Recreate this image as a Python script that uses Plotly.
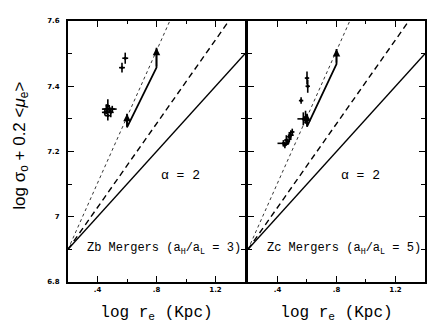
import plotly.graph_objects as go

# reference lines (same in both panels): log r_e, log sigma + 0.2 <mu_e>
solid_x = [0.2, 1.4]
solid_y = [6.9, 7.5]
dash_x = [0.2, 1.29]
dash_y = [6.9, 7.6]
dot_x = [0.2, 0.89]
dot_y = [6.9, 7.6]

# merger track (arrowed)
zb_track_x = [0.6, 0.6, 0.8, 0.8]
zb_track_y = [7.316, 7.274, 7.457, 7.518]
zc_track_x = [0.6, 0.6, 0.8, 0.8]
zc_track_y = [7.316, 7.276, 7.468, 7.514]

# Zb mergers
zb_x = [0.45, 0.46, 0.47, 0.47, 0.48, 0.49, 0.50, 0.566, 0.588]
zb_y = [7.32, 7.33, 7.34, 7.31, 7.33, 7.32, 7.33, 7.457, 7.486]
zb_ex = [0.02, 0.02, 0.015, 0.02, 0.05, 0.02, 0.02, 0.02, 0.02]
zb_ey = [0.01, 0.015, 0.02, 0.015, 0.01, 0.015, 0.01, 0.015, 0.017]

# Zc mergers
zc_x = [0.44, 0.45, 0.46, 0.47, 0.48, 0.49, 0.50, 0.56, 0.575, 0.59, 0.60, 0.605]
zc_y = [7.225, 7.22, 7.235, 7.23, 7.245, 7.25, 7.26, 7.356, 7.30, 7.305, 7.425, 7.40]
zc_ex = [0.04, 0.015, 0.015, 0.015, 0.015, 0.02, 0.015, 0.015, 0.04, 0.015, 0.015, 0.015]
zc_ey = [0.01, 0.01, 0.015, 0.01, 0.015, 0.015, 0.01, 0.01, 0.02, 0.02, 0.02, 0.02]

x_ticks = [0.4, 0.8, 1.2]
x_ticktext = [".4", ".8", "1.2"]
y_ticks = [6.8, 7.0, 7.2, 7.4, 7.6]
y_ticktext = ["6.8", "7", "7.2", "7.4", "7.6"]

MONO = "Liberation Mono"
panels = [
    ("x", "y", zb_x, zb_y, zb_ex, zb_ey, zb_track_x, zb_track_y,
     "Zb Mergers (a<sub>H</sub>/a<sub>L</sub> = 3)"),
    ("x2", "y2", zc_x, zc_y, zc_ex, zc_ey, zc_track_x, zc_track_y,
     "Zc Mergers (a<sub>H</sub>/a<sub>L</sub> = 5)"),
]

fig = go.Figure()
annotations = []
for xa, ya, px, py, pex, pey, tx, ty, label in panels:
    fig.add_trace(go.Scatter(x=dot_x, y=dot_y, mode="lines", xaxis=xa, yaxis=ya,
                             line=dict(color="black", width=0.8, dash="dot")))
    fig.add_trace(go.Scatter(x=dash_x, y=dash_y, mode="lines", xaxis=xa, yaxis=ya,
                             line=dict(color="black", width=1.4, dash="6px,4px")))
    fig.add_trace(go.Scatter(x=solid_x, y=solid_y, mode="lines", xaxis=xa, yaxis=ya,
                             line=dict(color="black", width=1.4)))
    fig.add_trace(go.Scatter(x=tx, y=ty, mode="lines", xaxis=xa, yaxis=ya,
                             line=dict(color="black", width=1.8)))
    fig.add_trace(go.Scatter(
        x=px, y=py, mode="markers", xaxis=xa, yaxis=ya,
        marker=dict(color="black", size=3),
        error_x=dict(array=pex, color="black", thickness=1.6, width=0),
        error_y=dict(array=pey, color="black", thickness=1.6, width=0),
    ))
    # arrowheads at both ends of the track
    for tip, tail in [(0, 1), (3, 2)]:
        annotations.append(dict(
            x=tx[tip], y=ty[tip], ax=tx[tail], ay=ty[tail],
            xref=xa, yref=ya, axref=xa, ayref=ya,
            showarrow=True, arrowhead=2, arrowsize=1, arrowwidth=1.5,
            arrowcolor="black", text="",
        ))
    annotations.append(dict(x=0.96, y=7.125, xref=xa, yref=ya, text="α = 2",
                            showarrow=False, font=dict(family=MONO, size=13, color="black")))
    annotations.append(dict(x=1.385, y=6.9, xref=xa, yref=ya, text=label, xanchor="right",
                            showarrow=False, font=dict(family=MONO, size=12, color="black")))

annotations.append(dict(
    x=-0.131, y=0.523, xref="paper", yref="paper", textangle=-90,
    text="log σ<sub>o</sub> + 0.2 &lt;<i>μ</i><sub>e</sub>&gt;", showarrow=False,
    xanchor="center", yanchor="middle",
    font=dict(family="Liberation Sans", size=17, color="black"),
))

axis_common = dict(
    showline=True, linewidth=2, linecolor="black", mirror="ticks",
    ticks="inside", ticklen=6, tickwidth=1.2, tickcolor="black",
    showgrid=False, zeroline=False,
    tickfont=dict(family="DejaVu Sans", size=7, color="black", weight="bold"),
)
xtitle = dict(text="log r<sub>e</sub> (Kpc)",
              font=dict(family=MONO, size=16, color="black"), standoff=12)
xminor = dict(dtick=0.2, tick0=0, ticks="inside", ticklen=3, tickcolor="black")
yminor = dict(dtick=0.1, tick0=6.8, ticks="inside", ticklen=4, tickcolor="black")

# page body has an 8px margin, so the figure is sized to fit inside it
fig.update_layout(
    width=428, height=325,
    margin=dict(l=60, r=9, t=12, b=51),
    paper_bgcolor="white", plot_bgcolor="white",
    showlegend=False,
    annotations=annotations,
    xaxis=dict(axis_common, domain=[0, 0.4958], range=[0.2, 1.4],
               tickvals=x_ticks, ticktext=x_ticktext, title=xtitle, minor=xminor),
    xaxis2=dict(axis_common, domain=[0.5042, 1], range=[0.2, 1.4], anchor="y2",
                tickvals=x_ticks, ticktext=x_ticktext, title=xtitle, minor=xminor),
    yaxis=dict(axis_common, range=[6.8, 7.6], tickvals=y_ticks, ticktext=y_ticktext,
               minor=yminor, ticklabelstandoff=5),
    yaxis2=dict(axis_common, range=[6.8, 7.6], anchor="x2", tickvals=y_ticks,
                showticklabels=False, minor=yminor),
)

fig.write_html("out.html")
